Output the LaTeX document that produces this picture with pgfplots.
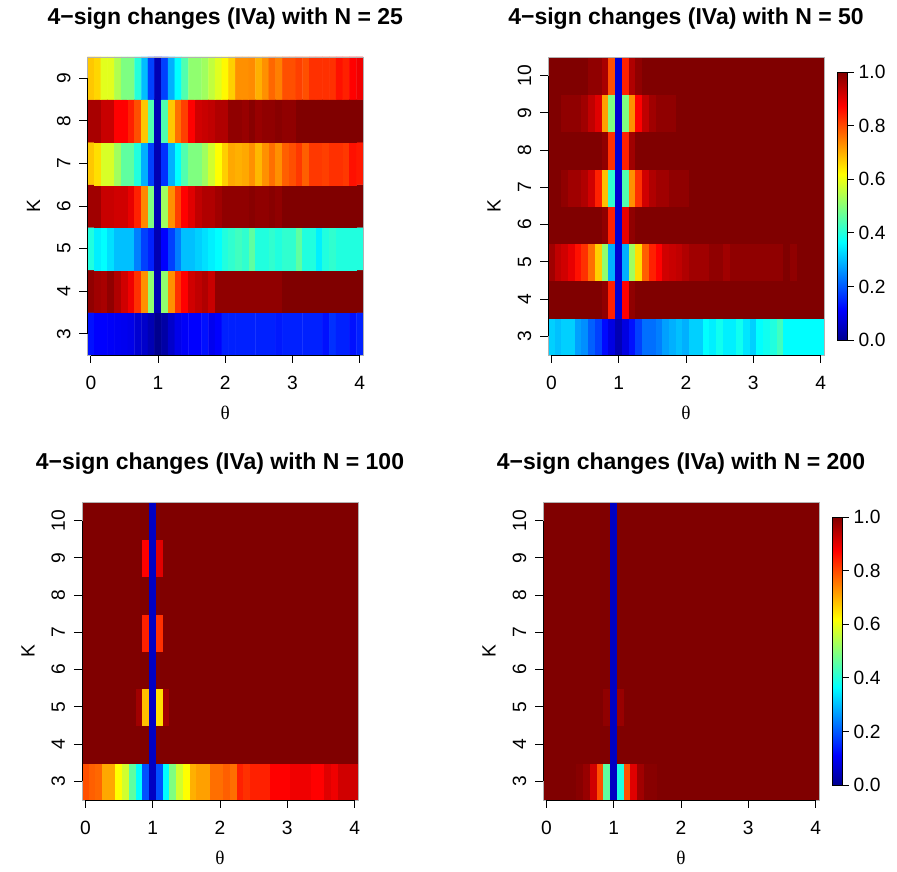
\documentclass[border=0pt]{standalone}
\usepackage{fontspec}
\setmainfont{Liberation Sans}
\newfontfamily\thetafont{Liberation Serif}
\usepackage{pgfplots}
\usepackage{pgfplotstable}
\pgfplotsset{compat=1.18}
\newcommand\fs{\fontsize{19.2}{23}\selectfont}
\pgfplotsset{
  colormap={tim}{rgb255(0cm)=(0,0,143) rgb255(7cm)=(0,0,255) rgb255(23cm)=(0,255,255) rgb255(39cm)=(255,255,0) rgb255(55cm)=(255,0,0) rgb255(63cm)=(128,0,0)},
  hm/.style={
    scale only axis, width=275.5pt, height=298pt,
    xmin=-0.05, xmax=4.05, ymin=2.5,
    enlargelimits=false, clip=false, axis on top=false,
    xtick={0,1,2,3,4},
    tick pos=left, tick align=outside,
    major tick length=8pt,
    major tick style={black, line width=0.8pt},
    axis line style={draw=none},
    point meta min=0, point meta max=1,
    colormap name=tim,
    ticklabel style={font=\fs, inner sep=0pt},
    /pgf/number format/assume math mode=true,
    xticklabel style={anchor=base, yshift=-27pt},
    yticklabel style={xshift=-9pt, rotate=90, anchor=base},
    title style={at={(0.5,1)}, anchor=base, yshift=26.5pt, font=\bfseries\fontsize{23}{27}\selectfont, inner sep=0pt},
    xlabel={\thetafont θ},
    xlabel style={at={(0.5,-0.194)}, anchor=center, font=\fs, inner sep=0pt},
    ylabel={K},
    ylabel style={at={(-0.196,0.5)}, anchor=center, font=\fs, inner sep=0pt},
  },
  cb/.style={
    colorbar,
    colorbar style={
      at={(parent axis.east)}, anchor=west, xshift=5pt,
      scale only axis, width=10pt, height=268pt,
      ytick={0,0.2,0.4,0.6,0.8,1},
      ytick pos=right, tick align=outside,
      major tick length=6pt,
      major tick style={black, line width=0.8pt},
      axis line style={black, line width=0.6pt},
      yticklabel style={font=\fs, inner sep=0pt, anchor=west, xshift=5pt,
        /pgf/number format/.cd, fixed, fixed zerofill, precision=1, assume math mode=true},
    },
  },
}
\pgfplotstableread[row sep=\\]{
x y c\\
0 3 0.127\\0.1 3 0.11\\0.2 3 0.11\\0.3 3 0.105\\0.4 3 0.1\\0.5 3 0.096\\0.6 3 0.09\\0.7 3 0.067\\0.8 3 0.06\\0.9 3 0.037\\1 3 0\\1.1 3 0.022\\1.2 3 0.06\\1.3 3 0.09\\1.4 3 0.105\\1.5 3 0.111\\1.6 3 0.111\\1.7 3 0.127\\1.8 3 0.096\\1.9 3 0.111\\2 3 0.143\\2.1 3 0.143\\2.2 3 0.143\\2.3 3 0.143\\2.4 3 0.143\\2.5 3 0.143\\2.6 3 0.143\\2.7 3 0.143\\2.8 3 0.135\\2.9 3 0.143\\3 3 0.143\\3.1 3 0.143\\3.2 3 0.143\\3.3 3 0.143\\3.4 3 0.143\\3.5 3 0.127\\3.6 3 0.159\\3.7 3 0.143\\3.8 3 0.143\\3.9 3 0.127\\4 3 0.143\\
0 4 0.984\\0.1 4 0.968\\0.2 4 0.96\\0.3 4 0.984\\0.4 4 0.952\\0.5 4 0.92\\0.6 4 0.888\\0.7 4 0.825\\0.8 4 0.73\\0.9 4 0.508\\1 4 0.037\\1.1 4 0.508\\1.2 4 0.73\\1.3 4 0.825\\1.4 4 0.873\\1.5 4 0.92\\1.6 4 0.936\\1.7 4 0.952\\1.8 4 0.928\\1.9 4 0.984\\2 4 0.984\\2.1 4 0.984\\2.2 4 0.984\\2.3 4 0.984\\2.4 4 0.984\\2.5 4 0.984\\2.6 4 0.984\\2.7 4 0.984\\2.8 4 0.984\\2.9 4 1\\3 4 1\\3.1 4 1\\3.2 4 1\\3.3 4 1\\3.4 4 1\\3.5 4 1\\3.6 4 1\\3.7 4 1\\3.8 4 1\\3.9 4 1\\4 4 1\\
0 5 0.397\\0.1 5 0.35\\0.2 5 0.365\\0.3 5 0.334\\0.4 5 0.302\\0.5 5 0.302\\0.6 5 0.302\\0.7 5 0.238\\0.8 5 0.175\\0.9 5 0.143\\1 5 0.037\\1.1 5 0.111\\1.2 5 0.175\\1.3 5 0.238\\1.4 5 0.302\\1.5 5 0.302\\1.6 5 0.318\\1.7 5 0.334\\1.8 5 0.35\\1.9 5 0.365\\2 5 0.397\\2.1 5 0.413\\2.2 5 0.429\\2.3 5 0.413\\2.4 5 0.46\\2.5 5 0.397\\2.6 5 0.397\\2.7 5 0.413\\2.8 5 0.397\\2.9 5 0.413\\3 5 0.413\\3.1 5 0.46\\3.2 5 0.397\\3.3 5 0.397\\3.4 5 0.35\\3.5 5 0.397\\3.6 5 0.413\\3.7 5 0.397\\3.8 5 0.397\\3.9 5 0.397\\4 5 0.397\\
0 6 0.968\\0.1 6 0.968\\0.2 6 0.928\\0.3 6 0.928\\0.4 6 0.92\\0.5 6 0.92\\0.6 6 0.896\\0.7 6 0.841\\0.8 6 0.738\\0.9 6 0.492\\1 6 0.037\\1.1 6 0.524\\1.2 6 0.73\\1.3 6 0.81\\1.4 6 0.873\\1.5 6 0.904\\1.6 6 0.936\\1.7 6 0.952\\1.8 6 0.952\\1.9 6 0.968\\2 6 0.984\\2.1 6 0.984\\2.2 6 0.984\\2.3 6 0.984\\2.4 6 0.992\\2.5 6 0.984\\2.6 6 0.984\\2.7 6 0.992\\2.8 6 0.984\\2.9 6 1\\3 6 1\\3.1 6 1\\3.2 6 1\\3.3 6 1\\3.4 6 1\\3.5 6 1\\3.6 6 1\\3.7 6 1\\3.8 6 1\\3.9 6 1\\4 6 1\\
0 7 0.675\\0.1 7 0.651\\0.2 7 0.58\\0.3 7 0.58\\0.4 7 0.524\\0.5 7 0.46\\0.6 7 0.46\\0.7 7 0.397\\0.8 7 0.286\\0.9 7 0.175\\1 7 0.037\\1.1 7 0.159\\1.2 7 0.286\\1.3 7 0.365\\1.4 7 0.445\\1.5 7 0.492\\1.6 7 0.492\\1.7 7 0.524\\1.8 7 0.573\\1.9 7 0.619\\2 7 0.667\\2.1 7 0.706\\2.2 7 0.698\\2.3 7 0.706\\2.4 7 0.73\\2.5 7 0.69\\2.6 7 0.73\\2.7 7 0.762\\2.8 7 0.73\\2.9 7 0.778\\3 7 0.794\\3.1 7 0.817\\3.2 7 0.778\\3.3 7 0.817\\3.4 7 0.817\\3.5 7 0.81\\3.6 7 0.825\\3.7 7 0.825\\3.8 7 0.817\\3.9 7 0.857\\4 7 0.849\\
0 8 0.96\\0.1 8 0.96\\0.2 8 0.928\\0.3 8 0.928\\0.4 8 0.873\\0.5 8 0.873\\0.6 8 0.841\\0.7 8 0.794\\0.8 8 0.675\\0.9 8 0.445\\1 8 0.037\\1.1 8 0.445\\1.2 8 0.675\\1.3 8 0.762\\1.4 8 0.81\\1.5 8 0.873\\1.6 8 0.92\\1.7 8 0.928\\1.8 8 0.936\\1.9 8 0.952\\2 8 0.952\\2.1 8 0.984\\2.2 8 0.984\\2.3 8 0.976\\2.4 8 0.992\\2.5 8 0.976\\2.6 8 0.984\\2.7 8 0.984\\2.8 8 0.992\\2.9 8 0.984\\3 8 0.984\\3.1 8 1\\3.2 8 1\\3.3 8 1\\3.4 8 1\\3.5 8 1\\3.6 8 1\\3.7 8 1\\3.8 8 1\\3.9 8 1\\4 8 1\\
0 9 0.675\\0.1 9 0.66\\0.2 9 0.59\\0.3 9 0.59\\0.4 9 0.54\\0.5 9 0.49\\0.6 9 0.49\\0.7 9 0.4\\0.8 9 0.3\\0.9 9 0.175\\1 9 0.037\\1.1 9 0.175\\1.2 9 0.286\\1.3 9 0.365\\1.4 9 0.445\\1.5 9 0.508\\1.6 9 0.508\\1.7 9 0.524\\1.8 9 0.557\\1.9 9 0.588\\2 9 0.625\\2.1 9 0.667\\2.2 9 0.73\\2.3 9 0.73\\2.4 9 0.735\\2.5 9 0.698\\2.6 9 0.73\\2.7 9 0.77\\2.8 9 0.746\\2.9 9 0.794\\3 9 0.794\\3.1 9 0.81\\3.2 9 0.794\\3.3 9 0.825\\3.4 9 0.825\\3.5 9 0.825\\3.6 9 0.825\\3.7 9 0.857\\3.8 9 0.841\\3.9 9 0.873\\4 9 0.888\\
}\tA
\pgfplotstableread[row sep=\\]{
x y c\\
0 3 0.318\\0.1 3 0.302\\0.2 3 0.318\\0.3 3 0.318\\0.4 3 0.27\\0.5 3 0.254\\0.6 3 0.207\\0.7 3 0.175\\0.8 3 0.12\\0.9 3 0.082\\1 3 0.037\\1.1 3 0.082\\1.2 3 0.127\\1.3 3 0.175\\1.4 3 0.222\\1.5 3 0.222\\1.6 3 0.238\\1.7 3 0.27\\1.8 3 0.286\\1.9 3 0.302\\2 3 0.286\\2.1 3 0.318\\2.2 3 0.318\\2.3 3 0.365\\2.4 3 0.35\\2.5 3 0.38\\2.6 3 0.35\\2.7 3 0.35\\2.8 3 0.38\\2.9 3 0.34\\3 3 0.318\\3.1 3 0.365\\3.2 3 0.38\\3.3 3 0.397\\3.4 3 0.429\\3.5 3 0.365\\3.6 3 0.365\\3.7 3 0.365\\3.8 3 0.365\\3.9 3 0.365\\4 3 0.365\\
0 4 1\\0.1 4 1\\0.2 4 1\\0.3 4 1\\0.4 4 1\\0.5 4 1\\0.6 4 1\\0.7 4 1\\0.8 4 0.984\\0.9 4 0.841\\1 4 0.067\\1.1 4 0.873\\1.2 4 0.984\\1.3 4 1\\1.4 4 1\\1.5 4 1\\1.6 4 1\\1.7 4 1\\1.8 4 1\\1.9 4 1\\2 4 1\\2.1 4 1\\2.2 4 1\\2.3 4 1\\2.4 4 1\\2.5 4 1\\2.6 4 1\\2.7 4 1\\2.8 4 1\\2.9 4 1\\3 4 1\\3.1 4 1\\3.2 4 1\\3.3 4 1\\3.4 4 1\\3.5 4 1\\3.6 4 1\\3.7 4 1\\3.8 4 1\\3.9 4 1\\4 4 1\\
0 5 0.968\\0.1 5 0.936\\0.2 5 0.92\\0.3 5 0.896\\0.4 5 0.857\\0.5 5 0.825\\0.6 5 0.762\\0.7 5 0.667\\0.8 5 0.508\\0.9 5 0.286\\1 5 0.067\\1.1 5 0.286\\1.2 5 0.524\\1.3 5 0.651\\1.4 5 0.778\\1.5 5 0.841\\1.6 5 0.873\\1.7 5 0.92\\1.8 5 0.928\\1.9 5 0.936\\2 5 0.952\\2.1 5 0.968\\2.2 5 0.968\\2.3 5 0.968\\2.4 5 0.984\\2.5 5 0.984\\2.6 5 0.968\\2.7 5 0.984\\2.8 5 0.984\\2.9 5 0.984\\3 5 0.984\\3.1 5 0.984\\3.2 5 0.984\\3.3 5 0.984\\3.4 5 0.984\\3.5 5 1\\3.6 5 0.984\\3.7 5 1\\3.8 5 1\\3.9 5 1\\4 5 1\\
0 6 1\\0.1 6 1\\0.2 6 1\\0.3 6 1\\0.4 6 1\\0.5 6 1\\0.6 6 1\\0.7 6 1\\0.8 6 0.984\\0.9 6 0.841\\1 6 0.067\\1.1 6 0.896\\1.2 6 0.984\\1.3 6 1\\1.4 6 1\\1.5 6 1\\1.6 6 1\\1.7 6 1\\1.8 6 1\\1.9 6 1\\2 6 1\\2.1 6 1\\2.2 6 1\\2.3 6 1\\2.4 6 1\\2.5 6 1\\2.6 6 1\\2.7 6 1\\2.8 6 1\\2.9 6 1\\3 6 1\\3.1 6 1\\3.2 6 1\\3.3 6 1\\3.4 6 1\\3.5 6 1\\3.6 6 1\\3.7 6 1\\3.8 6 1\\3.9 6 1\\4 6 1\\
0 7 1\\0.1 7 1\\0.2 7 0.984\\0.3 7 0.968\\0.4 7 0.968\\0.5 7 0.952\\0.6 7 0.92\\0.7 7 0.841\\0.8 7 0.683\\0.9 7 0.413\\1 7 0.067\\1.1 7 0.445\\1.2 7 0.73\\1.3 7 0.825\\1.4 7 0.92\\1.5 7 0.952\\1.6 7 0.968\\1.7 7 0.968\\1.8 7 0.984\\1.9 7 0.984\\2 7 0.984\\2.1 7 1\\2.2 7 1\\2.3 7 1\\2.4 7 1\\2.5 7 1\\2.6 7 1\\2.7 7 1\\2.8 7 1\\2.9 7 1\\3 7 1\\3.1 7 1\\3.2 7 1\\3.3 7 1\\3.4 7 1\\3.5 7 1\\3.6 7 1\\3.7 7 1\\3.8 7 1\\3.9 7 1\\4 7 1\\
0 8 1\\0.1 8 1\\0.2 8 1\\0.3 8 1\\0.4 8 1\\0.5 8 1\\0.6 8 1\\0.7 8 1\\0.8 8 0.984\\0.9 8 0.825\\1 8 0.067\\1.1 8 0.841\\1.2 8 0.968\\1.3 8 1\\1.4 8 1\\1.5 8 1\\1.6 8 1\\1.7 8 1\\1.8 8 1\\1.9 8 1\\2 8 1\\2.1 8 1\\2.2 8 1\\2.3 8 1\\2.4 8 1\\2.5 8 1\\2.6 8 1\\2.7 8 1\\2.8 8 1\\2.9 8 1\\3 8 1\\3.1 8 1\\3.2 8 1\\3.3 8 1\\3.4 8 1\\3.5 8 1\\3.6 8 1\\3.7 8 1\\3.8 8 1\\3.9 8 1\\4 8 1\\
0 9 1\\0.1 9 1\\0.2 9 0.984\\0.3 9 0.984\\0.4 9 0.984\\0.5 9 0.968\\0.6 9 0.936\\0.7 9 0.904\\0.8 9 0.714\\0.9 9 0.492\\1 9 0.067\\1.1 9 0.492\\1.2 9 0.73\\1.3 9 0.873\\1.4 9 0.936\\1.5 9 0.968\\1.6 9 0.984\\1.7 9 0.984\\1.8 9 0.984\\1.9 9 1\\2 9 1\\2.1 9 1\\2.2 9 1\\2.3 9 1\\2.4 9 1\\2.5 9 1\\2.6 9 1\\2.7 9 1\\2.8 9 1\\2.9 9 1\\3 9 1\\3.1 9 1\\3.2 9 1\\3.3 9 1\\3.4 9 1\\3.5 9 1\\3.6 9 1\\3.7 9 1\\3.8 9 1\\3.9 9 1\\4 9 1\\
0 10 1\\0.1 10 1\\0.2 10 1\\0.3 10 1\\0.4 10 1\\0.5 10 1\\0.6 10 0.984\\0.7 10 0.984\\0.8 10 0.96\\0.9 10 0.794\\1 10 0.067\\1.1 10 0.841\\1.2 10 0.952\\1.3 10 0.984\\1.4 10 1\\1.5 10 1\\1.6 10 1\\1.7 10 1\\1.8 10 1\\1.9 10 1\\2 10 1\\2.1 10 1\\2.2 10 1\\2.3 10 1\\2.4 10 1\\2.5 10 1\\2.6 10 1\\2.7 10 1\\2.8 10 1\\2.9 10 1\\3 10 1\\3.1 10 1\\3.2 10 1\\3.3 10 1\\3.4 10 1\\3.5 10 1\\3.6 10 1\\3.7 10 1\\3.8 10 1\\3.9 10 1\\4 10 1\\
}\tB
\pgfplotstableread[row sep=\\]{
x y c\\
0 3 0.794\\0.1 3 0.778\\0.2 3 0.77\\0.3 3 0.706\\0.4 3 0.706\\0.5 3 0.619\\0.6 3 0.573\\0.7 3 0.46\\0.8 3 0.365\\0.9 3 0.19\\1 3 0.052\\1.1 3 0.19\\1.2 3 0.365\\1.3 3 0.492\\1.4 3 0.573\\1.5 3 0.619\\1.6 3 0.698\\1.7 3 0.714\\1.8 3 0.714\\1.9 3 0.762\\2 3 0.762\\2.1 3 0.778\\2.2 3 0.762\\2.3 3 0.841\\2.4 3 0.825\\2.5 3 0.841\\2.6 3 0.841\\2.7 3 0.841\\2.8 3 0.873\\2.9 3 0.873\\3 3 0.873\\3.1 3 0.888\\3.2 3 0.888\\3.3 3 0.888\\3.4 3 0.873\\3.5 3 0.873\\3.6 3 0.904\\3.7 3 0.888\\3.8 3 0.92\\3.9 3 0.92\\4 3 0.92\\
0 4 1\\0.1 4 1\\0.2 4 1\\0.3 4 1\\0.4 4 1\\0.5 4 1\\0.6 4 1\\0.7 4 1\\0.8 4 1\\0.9 4 1\\1 4 0.052\\1.1 4 1\\1.2 4 1\\1.3 4 1\\1.4 4 1\\1.5 4 1\\1.6 4 1\\1.7 4 1\\1.8 4 1\\1.9 4 1\\2 4 1\\2.1 4 1\\2.2 4 1\\2.3 4 1\\2.4 4 1\\2.5 4 1\\2.6 4 1\\2.7 4 1\\2.8 4 1\\2.9 4 1\\3 4 1\\3.1 4 1\\3.2 4 1\\3.3 4 1\\3.4 4 1\\3.5 4 1\\3.6 4 1\\3.7 4 1\\3.8 4 1\\3.9 4 1\\4 4 1\\
0 5 1\\0.1 5 1\\0.2 5 1\\0.3 5 1\\0.4 5 1\\0.5 5 1\\0.6 5 1\\0.7 5 1\\0.8 5 0.968\\0.9 5 0.683\\1 5 0.052\\1.1 5 0.651\\1.2 5 0.968\\1.3 5 1\\1.4 5 1\\1.5 5 1\\1.6 5 1\\1.7 5 1\\1.8 5 1\\1.9 5 1\\2 5 1\\2.1 5 1\\2.2 5 1\\2.3 5 1\\2.4 5 1\\2.5 5 1\\2.6 5 1\\2.7 5 1\\2.8 5 1\\2.9 5 1\\3 5 1\\3.1 5 1\\3.2 5 1\\3.3 5 1\\3.4 5 1\\3.5 5 1\\3.6 5 1\\3.7 5 1\\3.8 5 1\\3.9 5 1\\4 5 1\\
0 6 1\\0.1 6 1\\0.2 6 1\\0.3 6 1\\0.4 6 1\\0.5 6 1\\0.6 6 1\\0.7 6 1\\0.8 6 1\\0.9 6 1\\1 6 0.052\\1.1 6 1\\1.2 6 1\\1.3 6 1\\1.4 6 1\\1.5 6 1\\1.6 6 1\\1.7 6 1\\1.8 6 1\\1.9 6 1\\2 6 1\\2.1 6 1\\2.2 6 1\\2.3 6 1\\2.4 6 1\\2.5 6 1\\2.6 6 1\\2.7 6 1\\2.8 6 1\\2.9 6 1\\3 6 1\\3.1 6 1\\3.2 6 1\\3.3 6 1\\3.4 6 1\\3.5 6 1\\3.6 6 1\\3.7 6 1\\3.8 6 1\\3.9 6 1\\4 6 1\\
0 7 1\\0.1 7 1\\0.2 7 1\\0.3 7 1\\0.4 7 1\\0.5 7 1\\0.6 7 1\\0.7 7 1\\0.8 7 1\\0.9 7 0.841\\1 7 0.052\\1.1 7 0.825\\1.2 7 1\\1.3 7 1\\1.4 7 1\\1.5 7 1\\1.6 7 1\\1.7 7 1\\1.8 7 1\\1.9 7 1\\2 7 1\\2.1 7 1\\2.2 7 1\\2.3 7 1\\2.4 7 1\\2.5 7 1\\2.6 7 1\\2.7 7 1\\2.8 7 1\\2.9 7 1\\3 7 1\\3.1 7 1\\3.2 7 1\\3.3 7 1\\3.4 7 1\\3.5 7 1\\3.6 7 1\\3.7 7 1\\3.8 7 1\\3.9 7 1\\4 7 1\\
0 8 1\\0.1 8 1\\0.2 8 1\\0.3 8 1\\0.4 8 1\\0.5 8 1\\0.6 8 1\\0.7 8 1\\0.8 8 1\\0.9 8 1\\1 8 0.052\\1.1 8 1\\1.2 8 1\\1.3 8 1\\1.4 8 1\\1.5 8 1\\1.6 8 1\\1.7 8 1\\1.8 8 1\\1.9 8 1\\2 8 1\\2.1 8 1\\2.2 8 1\\2.3 8 1\\2.4 8 1\\2.5 8 1\\2.6 8 1\\2.7 8 1\\2.8 8 1\\2.9 8 1\\3 8 1\\3.1 8 1\\3.2 8 1\\3.3 8 1\\3.4 8 1\\3.5 8 1\\3.6 8 1\\3.7 8 1\\3.8 8 1\\3.9 8 1\\4 8 1\\
0 9 1\\0.1 9 1\\0.2 9 1\\0.3 9 1\\0.4 9 1\\0.5 9 1\\0.6 9 1\\0.7 9 1\\0.8 9 1\\0.9 9 0.873\\1 9 0.052\\1.1 9 0.904\\1.2 9 1\\1.3 9 1\\1.4 9 1\\1.5 9 1\\1.6 9 1\\1.7 9 1\\1.8 9 1\\1.9 9 1\\2 9 1\\2.1 9 1\\2.2 9 1\\2.3 9 1\\2.4 9 1\\2.5 9 1\\2.6 9 1\\2.7 9 1\\2.8 9 1\\2.9 9 1\\3 9 1\\3.1 9 1\\3.2 9 1\\3.3 9 1\\3.4 9 1\\3.5 9 1\\3.6 9 1\\3.7 9 1\\3.8 9 1\\3.9 9 1\\4 9 1\\
0 10 1\\0.1 10 1\\0.2 10 1\\0.3 10 1\\0.4 10 1\\0.5 10 1\\0.6 10 1\\0.7 10 1\\0.8 10 1\\0.9 10 1\\1 10 0.052\\1.1 10 1\\1.2 10 1\\1.3 10 1\\1.4 10 1\\1.5 10 1\\1.6 10 1\\1.7 10 1\\1.8 10 1\\1.9 10 1\\2 10 1\\2.1 10 1\\2.2 10 1\\2.3 10 1\\2.4 10 1\\2.5 10 1\\2.6 10 1\\2.7 10 1\\2.8 10 1\\2.9 10 1\\3 10 1\\3.1 10 1\\3.2 10 1\\3.3 10 1\\3.4 10 1\\3.5 10 1\\3.6 10 1\\3.7 10 1\\3.8 10 1\\3.9 10 1\\4 10 1\\
}\tC
\pgfplotstableread[row sep=\\]{
x y c\\
0 3 1\\0.1 3 1\\0.2 3 1\\0.3 3 1\\0.4 3 1\\0.5 3 0.992\\0.6 3 0.976\\0.7 3 0.92\\0.8 3 0.794\\0.9 3 0.46\\1 3 0.052\\1.1 3 0.397\\1.2 3 0.794\\1.3 3 0.904\\1.4 3 0.968\\1.5 3 0.992\\1.6 3 0.992\\1.7 3 1\\1.8 3 1\\1.9 3 1\\2 3 1\\2.1 3 1\\2.2 3 1\\2.3 3 1\\2.4 3 1\\2.5 3 1\\2.6 3 1\\2.7 3 1\\2.8 3 1\\2.9 3 1\\3 3 1\\3.1 3 1\\3.2 3 1\\3.3 3 1\\3.4 3 1\\3.5 3 1\\3.6 3 1\\3.7 3 1\\3.8 3 1\\3.9 3 1\\4 3 1\\
0 4 1\\0.1 4 1\\0.2 4 1\\0.3 4 1\\0.4 4 1\\0.5 4 1\\0.6 4 1\\0.7 4 1\\0.8 4 1\\0.9 4 1\\1 4 0.052\\1.1 4 1\\1.2 4 1\\1.3 4 1\\1.4 4 1\\1.5 4 1\\1.6 4 1\\1.7 4 1\\1.8 4 1\\1.9 4 1\\2 4 1\\2.1 4 1\\2.2 4 1\\2.3 4 1\\2.4 4 1\\2.5 4 1\\2.6 4 1\\2.7 4 1\\2.8 4 1\\2.9 4 1\\3 4 1\\3.1 4 1\\3.2 4 1\\3.3 4 1\\3.4 4 1\\3.5 4 1\\3.6 4 1\\3.7 4 1\\3.8 4 1\\3.9 4 1\\4 4 1\\
0 5 1\\0.1 5 1\\0.2 5 1\\0.3 5 1\\0.4 5 1\\0.5 5 1\\0.6 5 1\\0.7 5 1\\0.8 5 1\\0.9 5 0.984\\1 5 0.052\\1.1 5 0.976\\1.2 5 1\\1.3 5 1\\1.4 5 1\\1.5 5 1\\1.6 5 1\\1.7 5 1\\1.8 5 1\\1.9 5 1\\2 5 1\\2.1 5 1\\2.2 5 1\\2.3 5 1\\2.4 5 1\\2.5 5 1\\2.6 5 1\\2.7 5 1\\2.8 5 1\\2.9 5 1\\3 5 1\\3.1 5 1\\3.2 5 1\\3.3 5 1\\3.4 5 1\\3.5 5 1\\3.6 5 1\\3.7 5 1\\3.8 5 1\\3.9 5 1\\4 5 1\\
0 6 1\\0.1 6 1\\0.2 6 1\\0.3 6 1\\0.4 6 1\\0.5 6 1\\0.6 6 1\\0.7 6 1\\0.8 6 1\\0.9 6 1\\1 6 0.052\\1.1 6 1\\1.2 6 1\\1.3 6 1\\1.4 6 1\\1.5 6 1\\1.6 6 1\\1.7 6 1\\1.8 6 1\\1.9 6 1\\2 6 1\\2.1 6 1\\2.2 6 1\\2.3 6 1\\2.4 6 1\\2.5 6 1\\2.6 6 1\\2.7 6 1\\2.8 6 1\\2.9 6 1\\3 6 1\\3.1 6 1\\3.2 6 1\\3.3 6 1\\3.4 6 1\\3.5 6 1\\3.6 6 1\\3.7 6 1\\3.8 6 1\\3.9 6 1\\4 6 1\\
0 7 1\\0.1 7 1\\0.2 7 1\\0.3 7 1\\0.4 7 1\\0.5 7 1\\0.6 7 1\\0.7 7 1\\0.8 7 1\\0.9 7 1\\1 7 0.052\\1.1 7 1\\1.2 7 1\\1.3 7 1\\1.4 7 1\\1.5 7 1\\1.6 7 1\\1.7 7 1\\1.8 7 1\\1.9 7 1\\2 7 1\\2.1 7 1\\2.2 7 1\\2.3 7 1\\2.4 7 1\\2.5 7 1\\2.6 7 1\\2.7 7 1\\2.8 7 1\\2.9 7 1\\3 7 1\\3.1 7 1\\3.2 7 1\\3.3 7 1\\3.4 7 1\\3.5 7 1\\3.6 7 1\\3.7 7 1\\3.8 7 1\\3.9 7 1\\4 7 1\\
0 8 1\\0.1 8 1\\0.2 8 1\\0.3 8 1\\0.4 8 1\\0.5 8 1\\0.6 8 1\\0.7 8 1\\0.8 8 1\\0.9 8 1\\1 8 0.052\\1.1 8 1\\1.2 8 1\\1.3 8 1\\1.4 8 1\\1.5 8 1\\1.6 8 1\\1.7 8 1\\1.8 8 1\\1.9 8 1\\2 8 1\\2.1 8 1\\2.2 8 1\\2.3 8 1\\2.4 8 1\\2.5 8 1\\2.6 8 1\\2.7 8 1\\2.8 8 1\\2.9 8 1\\3 8 1\\3.1 8 1\\3.2 8 1\\3.3 8 1\\3.4 8 1\\3.5 8 1\\3.6 8 1\\3.7 8 1\\3.8 8 1\\3.9 8 1\\4 8 1\\
0 9 1\\0.1 9 1\\0.2 9 1\\0.3 9 1\\0.4 9 1\\0.5 9 1\\0.6 9 1\\0.7 9 1\\0.8 9 1\\0.9 9 1\\1 9 0.052\\1.1 9 1\\1.2 9 1\\1.3 9 1\\1.4 9 1\\1.5 9 1\\1.6 9 1\\1.7 9 1\\1.8 9 1\\1.9 9 1\\2 9 1\\2.1 9 1\\2.2 9 1\\2.3 9 1\\2.4 9 1\\2.5 9 1\\2.6 9 1\\2.7 9 1\\2.8 9 1\\2.9 9 1\\3 9 1\\3.1 9 1\\3.2 9 1\\3.3 9 1\\3.4 9 1\\3.5 9 1\\3.6 9 1\\3.7 9 1\\3.8 9 1\\3.9 9 1\\4 9 1\\
0 10 1\\0.1 10 1\\0.2 10 1\\0.3 10 1\\0.4 10 1\\0.5 10 1\\0.6 10 1\\0.7 10 1\\0.8 10 1\\0.9 10 1\\1 10 0.052\\1.1 10 1\\1.2 10 1\\1.3 10 1\\1.4 10 1\\1.5 10 1\\1.6 10 1\\1.7 10 1\\1.8 10 1\\1.9 10 1\\2 10 1\\2.1 10 1\\2.2 10 1\\2.3 10 1\\2.4 10 1\\2.5 10 1\\2.6 10 1\\2.7 10 1\\2.8 10 1\\2.9 10 1\\3 10 1\\3.1 10 1\\3.2 10 1\\3.3 10 1\\3.4 10 1\\3.5 10 1\\3.6 10 1\\3.7 10 1\\3.8 10 1\\3.9 10 1\\4 10 1\\
}\tD
\begin{document}
\begin{tikzpicture}
\useasboundingbox (0,0) rectangle (897pt,872pt);
\begin{axis}[hm, at={(87.5pt,517pt)}, anchor=south west, ymax=9.5, ytick={3,...,9},
  title={4−sign changes (IVa) with N = 25}]
\addplot[matrix plot*, mesh/cols=41, point meta=explicit] table[x=x,y=y,meta=c]{\tA};
\draw[gray!60, line width=0.6pt] (rel axis cs:0,0) rectangle (rel axis cs:1,1);
\draw[black, line width=0.8pt] (axis cs:0,2.5) -- (axis cs:4,2.5);
\draw[black, line width=0.8pt] (axis cs:-0.05,3) -- (axis cs:-0.05,9);
\end{axis}
\begin{axis}[hm, cb, at={(548pt,517pt)}, anchor=south west, width=276pt, ymax=10.5, ytick={3,...,10},
  title={4−sign changes (IVa) with N = 50}]
\addplot[matrix plot*, mesh/cols=41, point meta=explicit] table[x=x,y=y,meta=c]{\tB};
\draw[gray!60, line width=0.6pt] (rel axis cs:0,0) rectangle (rel axis cs:1,1);
\draw[black, line width=0.8pt] (axis cs:0,2.5) -- (axis cs:4,2.5);
\draw[black, line width=0.8pt] (axis cs:-0.05,3) -- (axis cs:-0.05,10);
\end{axis}
\begin{axis}[hm, at={(82pt,72pt)}, anchor=south west, width=276pt, ymax=10.5, ytick={3,...,10},
  title={4−sign changes (IVa) with N = 100}]
\addplot[matrix plot*, mesh/cols=41, point meta=explicit] table[x=x,y=y,meta=c]{\tC};
\draw[gray!60, line width=0.6pt] (rel axis cs:0,0) rectangle (rel axis cs:1,1);
\draw[black, line width=0.8pt] (axis cs:0,2.5) -- (axis cs:4,2.5);
\draw[black, line width=0.8pt] (axis cs:-0.05,3) -- (axis cs:-0.05,10);
\end{axis}
\begin{axis}[hm, cb, at={(543pt,72pt)}, anchor=south west, width=276pt, ymax=10.5, ytick={3,...,10},
  title={4−sign changes (IVa) with N = 200}]
\addplot[matrix plot*, mesh/cols=41, point meta=explicit] table[x=x,y=y,meta=c]{\tD};
\draw[gray!60, line width=0.6pt] (rel axis cs:0,0) rectangle (rel axis cs:1,1);
\draw[black, line width=0.8pt] (axis cs:0,2.5) -- (axis cs:4,2.5);
\draw[black, line width=0.8pt] (axis cs:-0.05,3) -- (axis cs:-0.05,10);
\end{axis}
\end{tikzpicture}
\end{document}
